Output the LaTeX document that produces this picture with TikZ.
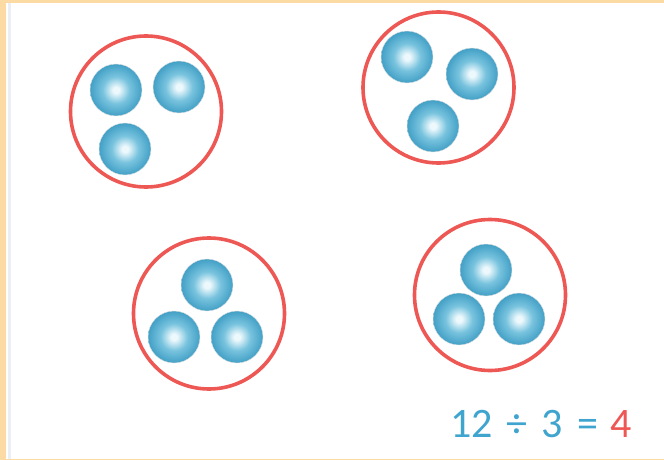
\documentclass[tikz,border=0pt]{standalone}
\usepackage{fontspec}
\setmainfont{Carlito}
\usepackage{tikz}
\definecolor{moldura}{RGB}{251,218,163}
\definecolor{filete}{RGB}{236,238,243}
\definecolor{vermelho}{RGB}{238,88,84}
\definecolor{azultexto}{RGB}{63,164,206}
\definecolor{bolaclaro}{RGB}{236,248,252}
\definecolor{bolameio}{RGB}{120,195,222}
\definecolor{bolaescuro}{RGB}{66,160,198}
\pgfdeclareradialshading{bolha}{\pgfpoint{0bp}{0bp}}{%
  color(0bp)=(bolaclaro); color(3bp)=(bolaclaro); color(13bp)=(bolameio);
  color(25bp)=(bolaescuro); color(50bp)=(bolaescuro)}
\def\bolasA{116/90, 179/87, 125/149}
\def\bolasB{407/57, 472/74, 433/126}
\def\bolasC{207/285, 174/337, 237/337}
\def\bolasD{486/270, 459/319, 519/319}
\tikzset{
  grupo/.style={circle, draw=vermelho, line width=3.6pt, inner sep=0pt, minimum size=151pt},
  bola/.style={circle, shading=bolha, draw=black!12, line width=0.4pt, inner sep=0pt, minimum size=52pt},
  conta/.style={anchor=base west, inner sep=0pt, font=\fontsize{42}{50}\selectfont},
}

\begin{document}
\begin{tikzpicture}[x=1pt, y=-1pt]
  \useasboundingbox (0,0) rectangle (664,460);

  % ---------------- moldura ----------------
  \fill[moldura] (0,0) rectangle (664,3);
  \fill[moldura] (0,0) rectangle (6,460);
  \fill[moldura] (0,458.5) rectangle (664,460);
  \fill[filete] (8,3) rectangle (11,458.5);

  % ---------------- grupos de tres ----------------
  \node[grupo] (g1) at (146,111.5) {};
  \foreach \x/\y [count=\i] in \bolasA { \node[bola] (a\i) at (\x,\y) {}; }

  \node[grupo] (g2) at (438.5,87.5) {};
  \foreach \x/\y [count=\i] in \bolasB { \node[bola] (b\i) at (\x,\y) {}; }

  \node[grupo] (g3) at (209,313.5) {};
  \foreach \x/\y [count=\i] in \bolasC { \node[bola] (c\i) at (\x,\y) {}; }

  \node[grupo] (g4) at (490,295) {};
  \foreach \x/\y [count=\i] in \bolasD { \node[bola] (d\i) at (\x,\y) {}; }

  % ---------------- divisao ----------------
  \node[conta] (conta) at (450,437)
    {\textcolor{azultexto}{12\hspace{14pt}÷\hspace{14pt}3\hspace{15pt}=}\hspace{12pt}\textcolor{vermelho}{4}};
\end{tikzpicture}
\end{document}
